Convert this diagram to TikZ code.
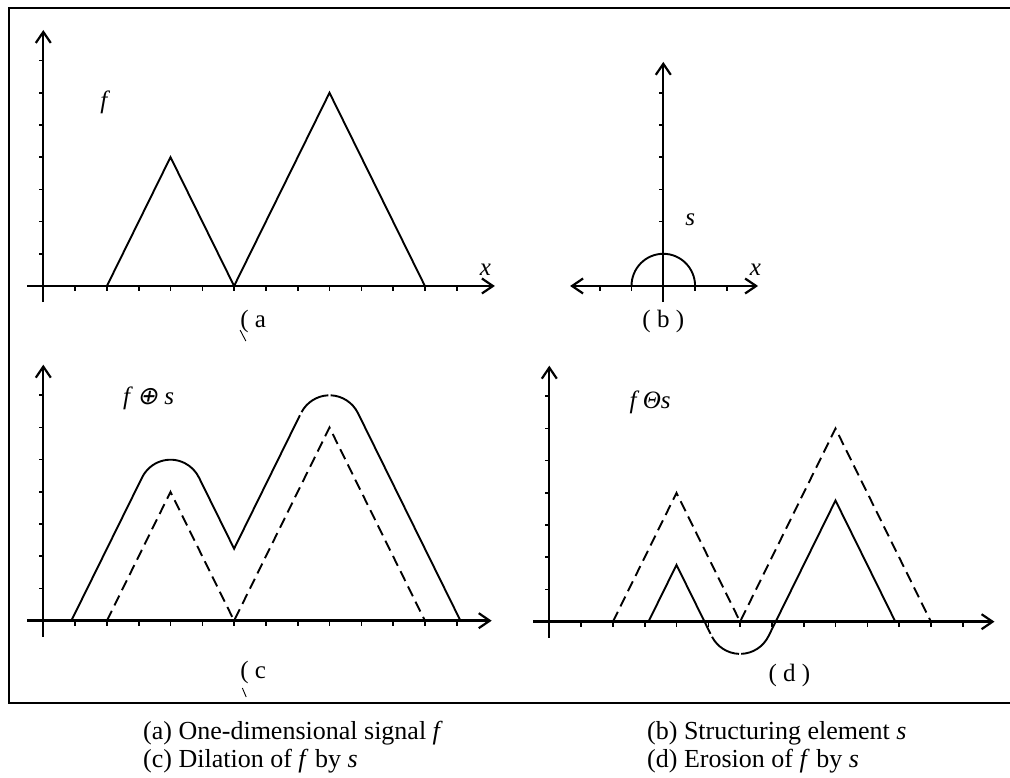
\documentclass[tikz,border=0pt]{standalone}
\usepackage{fontspec}
\setmainfont{Liberation Serif}
\newfontfamily\slantsym[FakeSlant=0.2]{DejaVu Sans}
\usetikzlibrary{arrows.meta}

\begin{document}
\begin{tikzpicture}[x=1pt, y=1pt,
    barb/.style={-{Straight Barb[length=11pt, width=15pt, line width=2.2pt]}},
    xaxis/.style={line width=2.8pt, barb},
    yaxis/.style={line width=1.9pt, barb},
    ticklet/.style={line width=1.6pt},
    sig/.style={line width=1.9pt, line join=miter},
    orig/.style={line width=1.9pt, dash pattern=on 11pt off 6pt},
    lbl/.style={font=\fontsize{25}{30}\selectfont, inner sep=0pt},
    capt/.style={font=\fontsize{26}{30}\selectfont, inner sep=0pt, anchor=base west},
    clip mark/.style={line width=0.9pt}
  ]
    \useasboundingbox (0,0) rectangle (1010,778);

    % outer frame, open to the right
    \draw[line width=1.8pt] (1012,770) -- (9,770) -- (9,75) -- (1012,75);

    % (a) signal f
    \begin{scope}[shift={(43.3pt,492pt)}, x=31.8pt, y=32.2pt]
      \draw[yaxis] (0,-0.5) -- (0,7.95);
      \draw[xaxis] (-0.5,0) -- (14.2,0);
      \foreach \i in {1,...,13}
        \draw[ticklet] (\i,0) -- (\i,-0.16);
      \foreach \j in {1,...,7}
        \draw[ticklet] (0,\j) -- (-0.13,\j);
      \draw[sig] (2,0) -- (4,4) -- (6,0) -- (9,6) -- (12,0);
      \node[lbl] (fa)   at (1.95,5.7)  {\textit{f}};
      \node[lbl] (xa)   at (13.9,0.5)  {\textit{x}};
      \node[lbl] (tagA) at (6.6,-1.09) {( a};
      \draw[clip mark] (6.19,-1.37) -- (6.37,-1.71);
    \end{scope}

    % (b) structuring element s
    \begin{scope}[shift={(663.3pt,492pt)}, x=31.8pt, y=32.2pt]
      \draw[yaxis] (0,-0.5) -- (0,6.96);
      \draw[xaxis, {Straight Barb[length=11pt, width=15pt, line width=2.2pt]}-{Straight Barb[length=11pt, width=15pt, line width=2.2pt]}]
        (-2.93,0) -- (2.98,0);
      \foreach \i in {-2,-1,1,2}
        \draw[ticklet] (\i,0) -- (\i,-0.16);
      \foreach \j in {2,...,6}
        \draw[ticklet] (0,\j) -- (-0.13,\j);
      \draw[sig] (-1,0) arc[start angle=180, end angle=0, radius=1];
      \node[lbl] (sb)   at (0.85,2.06) {\textit{s}};
      \node[lbl] (xb)   at (2.9,0.5)   {\textit{x}};
      \node[lbl] (tagB) at (0,-1.1)    {( b )};
    \end{scope}

    % (c) dilation of f by s
    \begin{scope}[shift={(43.3pt,157.3pt)}, x=31.8pt, y=32.2pt]
      \draw[yaxis] (0,-0.5) -- (0,7.95);
      \draw[xaxis] (-0.5,0) -- (14.1,0);
      \foreach \i in {1,...,13}
        \draw[ticklet] (\i,0) -- (\i,-0.16);
      \foreach \j in {1,...,7}
        \draw[ticklet] (0,\j) -- (-0.13,\j);
      \draw[orig] (2,0) -- (4,4) -- (6,0) -- (9,6) -- (12,0);
      \draw[sig] (0.882,0) -- (3.106,4.447)
        arc[start angle=153.43, end angle=26.57, radius=1]
        -- (6,2.236) -- (8.07,6.38);
      \draw[sig] (9,6) ++(151.5:1) arc[start angle=151.5, end angle=92, radius=1];
      \draw[sig] (9,6) ++(88:1) arc[start angle=88, end angle=26.57, radius=1]
        -- (13.118,0);
      \node[lbl] (fc)   at (3.31,6.92) {\textit{f}\,{\slantsym ⊕}\ \textit{s}};
      \node[lbl] (tagC) at (6.6,-1.62) {( c};
      \draw[clip mark] (6.26,-2.09) -- (6.38,-2.37);
    \end{scope}

    % (d) erosion of f by s
    \begin{scope}[shift={(549.3pt,156.3pt)}, x=31.8pt, y=32.2pt]
      \draw[yaxis] (0,-0.5) -- (0,7.95);
      \draw[xaxis] (-0.5,0) -- (14,0);
      \foreach \i in {1,...,13}
        \draw[ticklet] (\i,0) -- (\i,-0.16);
      \foreach \j in {1,...,7}
        \draw[ticklet] (0,\j) -- (-0.13,\j);
      \draw[orig] (2,0) -- (4,4) -- (6,0) -- (9,6) -- (12,0);
      \draw[sig] (3.118,0) -- (4,1.764) -- (5.07,-0.376);
      \draw[sig] (6,0) ++(208:1) arc[start angle=208, end angle=268, radius=1];
      \draw[sig] (6,0) ++(272:1) arc[start angle=272, end angle=333.43, radius=1]
        -- (9,3.764) -- (10.882,0);
      \node[lbl] (fd)   at (3.17,6.8)   {\textit{f Θs}};
      \node[lbl] (tagD) at (7.55,-1.66) {( d )};
    \end{scope}

    % captions
    \node[capt] (capA) at (143,38) {(a) One-dimensional signal \textit{f}};
    \node[capt] (capB) at (647,38) {(b) Structuring element \textit{s}};
    \node[capt] (capC) at (143,10) {(c) Dilation of \textit{f} by \textit{s}};
    \node[capt] (capD) at (647,10) {(d) Erosion of \textit{f} by \textit{s}};
\end{tikzpicture}
\end{document}
